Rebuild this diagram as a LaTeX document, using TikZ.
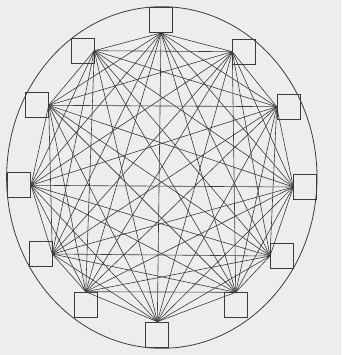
\documentclass[tikz,border=0pt]{standalone}
\usepackage{tikz}
\definecolor{paperGray}{RGB}{237,237,235}
\definecolor{inkGray}{RGB}{60,60,60}

\begin{document}
\begin{tikzpicture}[x=1pt, y=-1pt,
    box/.style={draw=inkGray, line width=0.8pt, minimum width=23pt, minimum height=25pt, inner sep=0pt},
    wire/.style={inkGray, line width=0.6pt}]
    \fill[paperGray] (0,0) rectangle (341,355);
    \useasboundingbox (0,0) rectangle (341,355);
    \draw[inkGray, line width=0.8pt] (161.8,177.5) ellipse (155.2pt and 170.8pt);
    % corners of the twelve-gon
    \coordinate (v1) at (161,33);
    \coordinate (v2) at (232.3,51.7);
    \coordinate (v3) at (276.7,106.7);
    \coordinate (v4) at (293.3,187);
    \coordinate (v5) at (270,256);
    \coordinate (v6) at (235.7,292.3);
    \coordinate (v7) at (157.3,321.7);
    \coordinate (v8) at (85.7,291.7);
    \coordinate (v9) at (52.3,254);
    \coordinate (v10) at (31,185.3);
    \coordinate (v11) at (48.7,105.3);
    \coordinate (v12) at (94.3,50.7);
    % every pair joined
    \foreach \i in {1,...,11} {
        \pgfmathtruncatemacro{\k}{\i+1}
        \foreach \j in {\k,...,12}
            \draw[wire] (v\i) -- (v\j);
    }
    \foreach \n/\a in {1/south, 2/west, 3/west, 4/west, 5/west, 6/north,
                       7/north, 8/north, 9/east, 10/east, 11/east, 12/east}
        \node[box, anchor=\a] (b\n) at (v\n) {};
\end{tikzpicture}
\end{document}
